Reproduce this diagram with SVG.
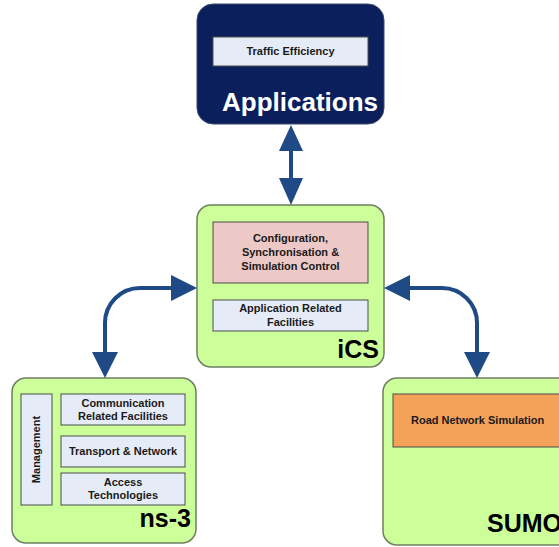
<svg xmlns="http://www.w3.org/2000/svg" width="559" height="547" viewBox="0 0 559 547">
<defs>
<style>
.green{fill:#ccff99;stroke:#6f7f62;stroke-width:1.5}
.blue{fill:#e6ecf7;stroke:#4d4d4d;stroke-width:1}
.lbl{font-family:"Liberation Sans",Arial,sans-serif;font-weight:bold;font-size:11px;fill:#1a1a1a;text-anchor:middle}
.big{font-family:"Liberation Sans",Arial,sans-serif;font-weight:bold;font-size:25px;fill:#000}
.conn{fill:none;stroke:#1f4a85;stroke-width:4}
.head{fill:#1f4a85}
</style>
</defs>
<g id="applications">
<rect x="197" y="4" width="187" height="120" rx="16" fill="#0b1f5c" stroke="#3a4a6a" stroke-width="1"/>
<rect class="blue" x="213" y="37" width="155" height="29"/>
<text class="lbl" x="290.5" y="55">Traffic Efficiency</text>
<text class="big" x="378" y="111" text-anchor="end" style="fill:#fff;font-size:26px">Applications</text>
</g>
<g id="ics">
<rect class="green" x="197" y="205" width="187" height="162" rx="14"/>
<rect x="213" y="222" width="155" height="61" fill="#ecc9c7" stroke="#4d4d4d" stroke-width="1"/>
<text class="lbl" x="290.5" y="242">Configuration,</text>
<text class="lbl" x="290.5" y="256">Synchronisation &amp;</text>
<text class="lbl" x="290.5" y="270">Simulation Control</text>
<rect class="blue" x="213" y="300" width="155" height="31"/>
<text class="lbl" x="290.5" y="312">Application Related</text>
<text class="lbl" x="290.5" y="326">Facilities</text>
<text class="big" x="379" y="358" text-anchor="end">iCS</text>
</g>
<g id="ns3">
<rect class="green" x="12" y="378" width="184" height="165" rx="14"/>
<rect class="blue" x="21" y="394" width="31" height="111"/>
<text class="lbl" transform="translate(40,449.5) rotate(-90)">Management</text>
<rect class="blue" x="61" y="394" width="124" height="31"/>
<text class="lbl" x="123" y="407">Communication</text>
<text class="lbl" x="123" y="420">Related Facilities</text>
<rect class="blue" x="61" y="436" width="124" height="31"/>
<text class="lbl" x="123" y="455">Transport &amp; Network</text>
<rect class="blue" x="61" y="473" width="124" height="32"/>
<text class="lbl" x="123" y="486">Access</text>
<text class="lbl" x="123" y="499">Technologies</text>
<text class="big" x="191" y="527" text-anchor="end">ns-3</text>
</g>
<g id="sumo">
<rect class="green" x="383" y="378" width="200" height="167" rx="14"/>
<rect x="393" y="394" width="190" height="53" fill="#f4a15a" stroke="#4d4d4d" stroke-width="1"/>
<text class="lbl" x="411" y="424" style="text-anchor:start">Road Network Simulation</text>
<text class="big" x="487" y="532">SUMO</text>
</g>
<g id="connectors">
<line class="conn" x1="291" y1="148" x2="291" y2="180"/>
<polygon class="head" points="291,125 303,151 279,151"/>
<polygon class="head" points="291,205 303,178 279,178"/>
<path class="conn" d="M174,288 H140 A35,35 0 0 0 105,323 V354"/>
<polygon class="head" points="197,288 171,275 171,301"/>
<polygon class="head" points="105,378 92,352 118,352"/>
<path class="conn" d="M408,288 H442 A35,35 0 0 1 477,323 V354"/>
<polygon class="head" points="384,288 410,275 410,301"/>
<polygon class="head" points="477,378 464,352 490,352"/>
</g>
</svg>
